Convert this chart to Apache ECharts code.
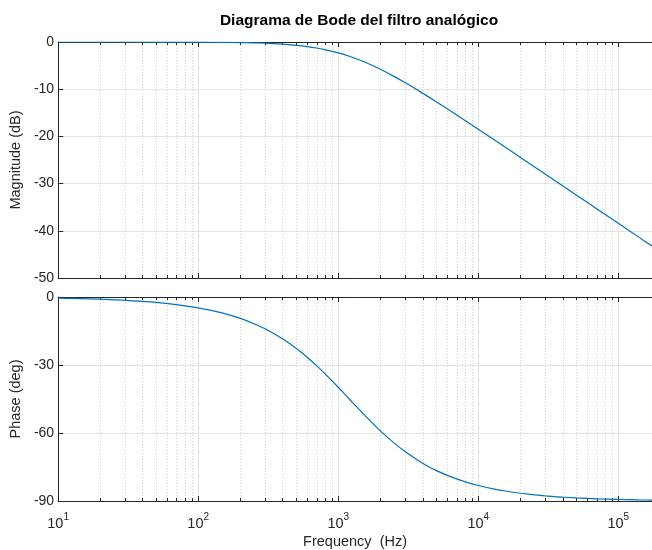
<!DOCTYPE html>
<html>
<head>
<meta charset="utf-8">
<script src="https://cdn.jsdelivr.net/npm/echarts@6/dist/echarts.min.js"></script>
<style>
html,body{margin:0;padding:0;background:#fff;}
#chart{width:652px;height:550px;}
</style>
</head>
<body>
<div id="chart"></div>
<script>
// Values
const titleText = 'Diagrama de Bode del filtro analógico';
const freqHz = [10, 20, 50, 100, 150, 200, 250, 300, 400, 500, 600, 700, 800, 1000, 1200, 1500, 2000, 2500, 3000, 4000, 5000, 6000, 8000, 10000, 13000, 16000, 20000, 30000, 40000, 50000, 70000, 100000, 140000, 174000];
const magnitudeDb = [0.00, 0.00, -0.01, -0.03, -0.07, -0.12, -0.18, -0.26, -0.46, -0.70, -0.97, -1.27, -1.60, -2.29, -3.01, -4.09, -5.77, -7.28, -8.60, -10.83, -12.64, -14.15, -16.57, -18.48, -20.73, -22.52, -24.45, -27.97, -30.46, -32.40, -35.32, -38.42, -41.34, -43.23];
const phaseDeg = [-0.48, -0.95, -2.39, -4.76, -7.13, -9.46, -11.77, -14.04, -18.43, -22.62, -26.57, -30.26, -33.69, -39.81, -45.00, -51.34, -59.04, -64.36, -68.20, -73.30, -76.50, -78.69, -81.47, -83.16, -84.73, -85.71, -86.57, -87.71, -88.28, -88.63, -89.02, -89.31, -89.51, -89.60];
const magTicks = [-50, -40, -30, -20, -10, 0];
const phaseTicks = [-90, -60, -30, 0];
const freqMin = 10, freqMax = 174000;
const magLabel = 'Magnitude (dB)';
const phaseLabel = 'Phase (deg)';
const freqLabel = 'Frequency  (Hz)';

// minor log positions (2..9 x 10^k) for dotted grid
const minorFreqs = [];
for (let k = 1; k <= 5; k++) {
  for (let m = 2; m <= 9; m++) {
    const v = m * Math.pow(10, k);
    if (v < freqMax) minorFreqs.push([v]);
  }
}

const FONT = 'Liberation Sans, Arial, Helvetica, sans-serif';
const TXT = '#262626';
const AX = '#262626';
const GRIDC = '#e3e3e3';

function minorRender(params, api) {
  const cs = params.coordSys;
  const x = Math.round(api.coord([api.value(0), 0])[0]) + 0.5;
  const y0 = cs.y, y1 = cs.y + cs.height;
  return {
    type: 'group',
    children: [
      {type: 'line', shape: {x1: x, y1: y0, x2: x, y2: y1}, style: {stroke: '#d2d2d2', lineWidth: 1, lineDash: [1, 2]}},
      {type: 'line', shape: {x1: x, y1: y0, x2: x, y2: y0 + 3}, style: {stroke: AX, lineWidth: 1}, z2: 10},
      {type: 'line', shape: {x1: x, y1: y1, x2: x, y2: y1 - 3}, style: {stroke: AX, lineWidth: 1}, z2: 10}
    ]
  };
}

function xAxisCfg(grid, pos, labels) {
  return {
    type: 'log', logBase: 10, gridIndex: grid, position: pos,
    min: freqMin, max: freqMax,
    axisLine: {show: true, onZero: false, lineStyle: {color: AX, width: 1}},
    axisTick: {show: true, inside: true, length: 5, lineStyle: {color: AX}},
    axisLabel: labels ? {
      show: true, margin: 11, showMaxLabel: false, color: TXT, fontFamily: FONT,
      formatter: function (v) { return '{b|10}{s|' + Math.round(Math.log10(v)) + '}'; },
      rich: {
        b: {fontSize: 14.5, fontFamily: FONT, color: TXT, lineHeight: 19, verticalAlign: 'bottom'},
        s: {fontSize: 10, fontFamily: FONT, color: TXT, lineHeight: 19, verticalAlign: 'top', padding: [0, 0, 9, 0]}
      }
    } : {show: false},
    splitLine: {show: pos === 'bottom', lineStyle: {color: GRIDC, width: 1}},
    name: (labels ? freqLabel : ''), nameLocation: 'middle', nameGap: 33,
    nameTextStyle: {fontSize: 14.5, fontFamily: FONT, color: TXT}
  };
}

function yAxisCfg(grid, min, max, interval, name) {
  return {
    type: 'value', gridIndex: grid, min: min, max: max, interval: interval,
    axisLine: {show: true, onZero: false, lineStyle: {color: AX, width: 1}},
    axisTick: {show: true, inside: true, length: 5, lineStyle: {color: AX}},
    axisLabel: {show: true, margin: 4, fontSize: 14, fontFamily: FONT, color: TXT},
    splitLine: {show: true, lineStyle: {color: GRIDC, width: 1}},
    name: name, nameLocation: 'middle', nameGap: 24, nameRotate: 90,
    nameTextStyle: {fontSize: 14.5, fontFamily: FONT, color: TXT}
  };
}

const chart = echarts.init(document.getElementById('chart'), null, {renderer: 'canvas'});
chart.setOption({
  backgroundColor: '#ffffff',
  animation: false,
  title: {
    text: titleText, left: 354, top: 8, textAlign: 'center',
    textStyle: {fontSize: 15.5, fontWeight: 'bold', fontFamily: FONT, color: '#000'}
  },
  grid: [
    {left: 56, top: 42, right: 0, height: 236},
    {left: 56, top: 297, right: 0, height: 206}
  ],
  xAxis: [
    xAxisCfg(0, 'bottom', false),
    xAxisCfg(0, 'top', false),
    xAxisCfg(1, 'bottom', true),
    xAxisCfg(1, 'top', false)
  ],
  yAxis: [
    yAxisCfg(0, magTicks[0], magTicks[magTicks.length - 1], 10, magLabel),
    yAxisCfg(1, phaseTicks[0], phaseTicks[phaseTicks.length - 1], 30, phaseLabel)
  ],
  series: [
    {type: 'custom', xAxisIndex: 0, yAxisIndex: 0, data: minorFreqs, renderItem: minorRender, silent: true, z: 1, clip: false},
    {type: 'custom', xAxisIndex: 2, yAxisIndex: 1, data: minorFreqs, renderItem: minorRender, silent: true, z: 1, clip: false},
    {type: 'line', xAxisIndex: 0, yAxisIndex: 0, data: freqHz.map((f, i) => [f, magnitudeDb[i]]),
     showSymbol: false, symbol: 'none', smooth: 0.2, lineStyle: {color: '#0072BD', width: 1.2}, z: 5, clip: true},
    {type: 'line', xAxisIndex: 2, yAxisIndex: 1, data: freqHz.map((f, i) => [f, phaseDeg[i]]),
     showSymbol: false, symbol: 'none', smooth: 0.2, lineStyle: {color: '#0072BD', width: 1.2}, z: 5, clip: true}
  ]
});
</script>
</body>
</html>
